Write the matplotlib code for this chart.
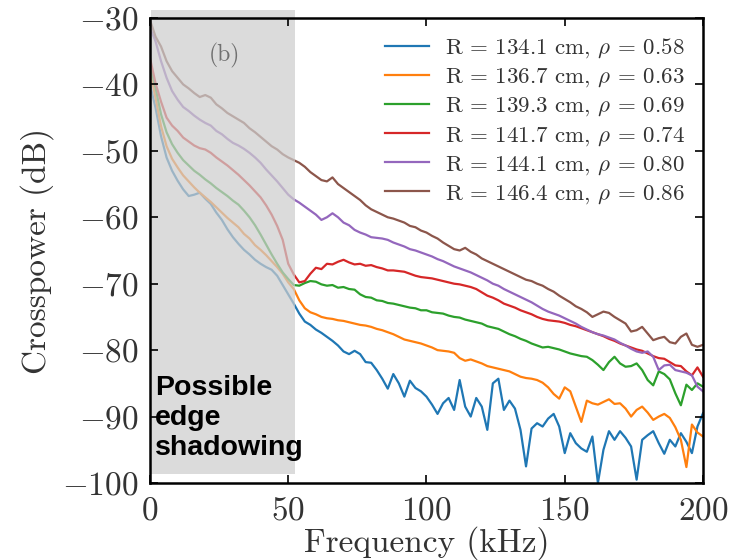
import numpy as np
import matplotlib
matplotlib.use("Agg")
import matplotlib.pyplot as plt
from matplotlib.patches import Rectangle

plt.rcParams['font.family'] = 'serif'
plt.rcParams['font.serif'] = ['cmr10', 'DejaVu Serif']
plt.rcParams['mathtext.fontset'] = 'cm'
plt.rcParams['axes.formatter.use_mathtext'] = True

# frequency grid (kHz)
freq = np.arange(0, 201, 2)

labels = [r"R = 134.1 cm, $\rho$ = 0.58",
          r"R = 136.7 cm, $\rho$ = 0.63",
          r"R = 139.3 cm, $\rho$ = 0.69",
          r"R = 141.7 cm, $\rho$ = 0.74",
          r"R = 144.1 cm, $\rho$ = 0.80",
          r"R = 146.4 cm, $\rho$ = 0.86"]

p_134 = [-40, -43.5, -47.8, -51.0, -53.0, -54.5, -55.8, -56.8, -56.6, -56.3,
         -57.2, -58.0, -59.3, -60.4, -61.8, -63.0, -64.0, -64.9, -65.6, -66.4,
         -67.0, -67.5, -67.9, -68.8, -70.2, -71.6, -73.0, -74.5, -75.7, -76.2,
         -76.9, -77.4, -78.0, -78.6, -79.3, -80.2, -80.6, -80.1, -80.6, -81.8,
         -81.9, -83.0, -84.3, -85.8, -83.6, -85.0, -87.0, -84.6, -85.7, -86.2,
         -87.0, -88.2, -89.6, -88.0, -87.2, -89.0, -84.5, -88.5, -90.0, -87.2,
         -88.5, -92.0, -85.0, -84.3, -89.0, -87.6, -88.8, -92.0, -97.5, -91.8,
         -91.0, -91.5, -90.3, -89.6, -91.5, -95.5, -92.5, -94.0, -94.8, -95.3,
         -93.0, -100.0, -95.0, -92.2, -93.5, -92.2, -93.2, -94.5, -99.5, -93.5,
         -92.8, -92.2, -94.0, -95.6, -93.5, -94.5, -92.5, -93.8, -95.5, -91.5,
         -89.5]

p_136 = [-38, -42.0, -46.3, -49.3, -51.2, -52.5, -53.7, -54.6, -55.5, -56.3,
         -57.0, -57.7, -58.5, -59.3, -60.1, -60.8, -61.5, -62.5, -63.2, -64.2,
         -64.9, -65.7, -66.6, -67.5, -68.5, -69.8, -70.8, -72.5, -73.7, -74.3,
         -74.6, -75.0, -75.2, -75.3, -75.5, -75.6, -75.8, -76.0, -76.2, -76.3,
         -76.5, -76.8, -77.0, -77.3, -77.6, -78.0, -78.4, -78.6, -78.8, -79.0,
         -79.3, -79.6, -80.0, -80.1, -80.2, -80.4, -81.2, -81.6, -81.4, -81.7,
         -82.0, -82.4, -82.6, -82.8, -83.0, -83.2, -83.6, -84.0, -84.2, -84.3,
         -84.5, -84.9, -85.6, -86.6, -87.3, -85.6, -86.2, -88.5, -90.8, -87.6,
         -88.0, -88.2, -87.8, -87.4, -88.1, -88.0, -88.8, -90.0, -89.0, -88.5,
         -89.4, -90.5, -90.0, -89.6, -90.2, -91.6, -93.5, -97.6, -91.2, -92.4,
         -93.0]

p_139 = [-37, -40.5, -44.5, -47.2, -49.0, -50.3, -51.4, -52.2, -53.0, -53.6,
         -54.3, -54.9, -55.6, -56.2, -56.8, -57.5, -58.1, -59.0, -60.0, -61.2,
         -62.6, -64.1, -65.6, -67.0, -68.3, -69.3, -70.2, -70.3, -69.9, -69.6,
         -69.7, -70.1, -70.3, -70.2, -70.6, -70.5, -70.8, -70.9, -71.6, -72.0,
         -72.1, -72.5, -72.6, -72.9, -73.0, -73.2, -73.4, -73.6, -73.7, -74.0,
         -74.0, -74.3, -74.4, -74.5, -74.8, -75.0, -75.1, -75.4, -75.6, -75.8,
         -76.0, -76.4, -76.6, -76.8, -77.2, -77.6, -77.9, -78.3, -78.6, -79.0,
         -79.3, -79.6, -79.5, -79.7, -79.9, -80.2, -80.5, -80.7, -80.9, -81.0,
         -81.5, -82.2, -83.0, -81.8, -81.0, -82.0, -82.5, -82.4, -82.0, -83.0,
         -84.5, -85.3, -83.2, -83.6, -84.4, -86.5, -88.3, -85.2, -86.0, -85.0,
         -85.5]

p_141 = [-36, -39.8, -42.6, -45.0, -46.2, -47.0, -48.0, -48.6, -49.2, -49.6,
         -49.8, -50.3, -51.0, -51.6, -52.2, -52.9, -53.6, -54.4, -55.2, -56.1,
         -57.0, -58.2, -59.6, -61.3, -63.4, -67.0, -68.6, -69.8, -69.6, -68.5,
         -67.6, -67.8, -67.0, -67.1, -66.7, -66.4, -66.8, -67.1, -67.0, -67.3,
         -67.2, -67.5, -67.7, -68.0, -68.0, -68.1, -68.2, -68.5, -68.8, -69.0,
         -69.1, -69.2, -69.4, -69.6, -69.8, -70.0, -70.1, -70.3, -70.5, -70.8,
         -71.3, -71.8, -72.1, -72.5, -73.0, -73.3, -73.6, -74.0, -74.3, -74.6,
         -75.0, -75.3, -75.5, -75.6, -75.7, -75.9, -76.2, -76.4, -76.7, -77.0,
         -77.3, -77.6, -77.9, -78.3, -78.6, -79.0, -79.3, -79.6, -79.9, -80.1,
         -80.5, -80.9, -81.2, -81.3, -81.8, -82.3, -82.4, -83.2, -83.8, -82.6,
         -84.0]

p_144 = [-31.5, -33.5, -36.5, -39.0, -41.0, -42.3, -43.4, -44.0, -44.7, -45.3,
         -45.8, -46.2, -47.0, -47.5, -48.2, -48.8, -49.2, -49.7, -50.3, -51.0,
         -51.8, -52.8, -53.7, -54.6, -55.6, -56.6, -57.3, -57.8, -58.4, -59.0,
         -59.6, -60.4, -60.0, -59.4, -60.0, -60.8, -61.2, -61.9, -62.3, -62.6,
         -63.0, -63.1, -63.2, -63.4, -63.8, -64.1, -64.4, -64.8, -65.0, -65.3,
         -65.6, -65.9, -66.3, -66.6, -67.0, -67.4, -67.7, -68.0, -68.3, -68.7,
         -69.1, -69.5, -70.0, -70.3, -70.8, -71.2, -71.6, -72.0, -72.4, -72.8,
         -73.3, -73.8, -74.2, -74.5, -74.8, -75.2, -75.6, -76.0, -76.5, -76.9,
         -77.3, -77.6, -77.8, -78.1, -78.4, -78.9, -79.3, -79.8, -80.2, -80.4,
         -80.2, -81.0, -83.0, -82.3, -82.2, -83.0, -83.2, -83.4, -83.8, -85.5,
         -86.2]

p_146 = [-30.3, -32.8, -34.3, -36.5, -38.0, -39.0, -40.0, -40.6, -41.3, -41.9,
         -41.6, -42.0, -43.0, -43.6, -44.3, -44.8, -45.3, -45.8, -46.6, -47.2,
         -47.9, -48.6, -49.3, -49.8, -50.5, -51.0, -51.4, -51.8, -52.4, -53.2,
         -53.8, -54.4, -54.6, -54.0, -55.0, -55.6, -56.2, -56.8, -57.4, -58.2,
         -58.8, -59.2, -59.6, -60.0, -60.2, -60.5, -60.8, -61.3, -61.5, -62.0,
         -62.3, -62.8, -63.2, -63.8, -64.3, -64.8, -65.0, -64.6, -65.2, -65.6,
         -66.2, -66.6, -67.0, -67.4, -67.8, -68.2, -68.6, -69.0, -69.4, -69.6,
         -70.0, -70.3, -70.8, -71.2, -71.8, -72.3, -72.8, -73.4, -73.8, -74.3,
         -75.0, -74.6, -74.2, -74.4, -75.0, -75.5, -76.0, -77.2, -77.0, -76.5,
         -77.5, -78.5, -78.2, -78.0, -78.8, -79.0, -78.0, -77.5, -79.2, -79.5,
         -79.2]

series = [p_134, p_136, p_139, p_141, p_144, p_146]
colors = ["tab:blue", "tab:orange", "tab:green", "tab:red", "tab:purple", "tab:brown"]

textColor = "#333333"

fig = plt.figure(figsize=(7.41, 5.6), dpi=100)
ax = fig.add_axes([0.2024, 0.1375, 0.7463, 0.8304])
ax.set_axisbelow(False)  # spines/ticks above the shading

for vals, lab, c in zip(series, labels, colors):
    ax.plot(freq, vals, color=c, lw=1.6, label=lab, zorder=2)

ax.set_xlim(0, 200)
ax.set_ylim(-100, -30)
ax.set_xticks([0, 50, 100, 150, 200])
ax.set_yticks(np.arange(-100, -29, 10))
ax.tick_params(direction="in", top=True, right=True, length=6, width=1.2,
               labelsize=24, labelcolor=textColor, pad=8)
ax.tick_params(axis="x", pad=10)
for s in ax.spines.values():
    s.set_linewidth(1.8)
    s.set_color("black")

ax.set_xlabel("Frequency (kHz)", fontsize=24, color=textColor, labelpad=0)
ax.set_ylabel("Crosspower (dB)", fontsize=24, color=textColor, labelpad=6)

ax.legend(loc="upper right", frameon=False, fontsize=16.5, handlelength=1.9,
          handletextpad=0.7, labelspacing=0.28, borderaxespad=0.4,
          labelcolor=textColor)

# shaded region over the lines, under the spines
ax.add_patch(Rectangle((151 / 741, 1 - 474 / 560), 144 / 741, 464 / 560,
                       transform=fig.transFigure, facecolor="#cdcdcd",
                       alpha=0.72, edgecolor="none", zorder=2.2, clip_on=False))

ax.text(27, -35.6, "(b)", fontsize=17, color="#707070", ha="center",
        va="center", zorder=3)
fig.text(155 / 741, 1 - 455 / 560, "Possible\nedge\nshadowing", fontsize=20.5,
         fontweight="bold", family="Liberation Sans", color="black",
         ha="left", va="baseline", zorder=6, linespacing=1.2)

fig.savefig("out.png", dpi=100)
